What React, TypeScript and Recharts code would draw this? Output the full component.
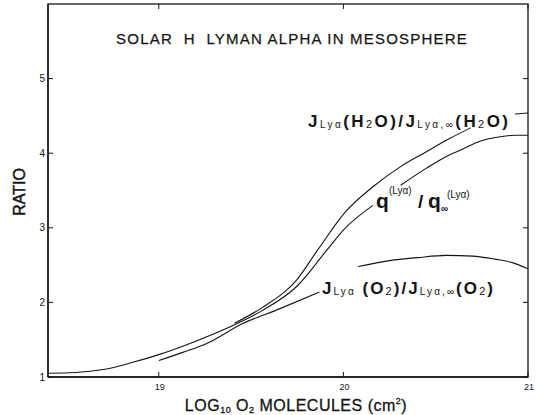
import React from "react";
import { LineChart, Line, XAxis, YAxis } from "recharts";

// log10 of O2 column (cm^-2) vs. ratio to unattenuated value
const qLogN = [18.4, 18.55, 18.7, 18.85, 19.0, 19.19, 19.41, 19.56, 19.75, 19.91, 20.0, 20.16, 20.2, 20.31, 20.45, 20.56, 20.65, 20.74, 20.85, 20.93, 21.0];
const qRatio = [1.05, 1.06, 1.1, 1.19, 1.3, 1.47, 1.7, 1.89, 2.22, 2.7, 2.97, 3.3, null, 3.57, 3.8, 3.96, 4.06, 4.16, 4.22, 4.24, 4.24];

const h2oLogN = [19.41, 19.56, 19.75, 19.86, 20.01, 20.16, 20.31, 20.45, 20.57, 20.69];
const h2oRatio = [1.72, 1.93, 2.31, 2.7, 3.21, 3.55, 3.82, 4.02, 4.19, 4.34];

const o2LogN = [19.0, 19.13, 19.26, 19.45, 19.66, 19.87, 19.98, 20.08, 20.25, 20.4, 20.56, 20.7, 20.82, 20.92, 21.0];
const o2Ratio = [1.22, 1.33, 1.45, 1.71, 1.92, 2.14, null, 2.48, 2.56, 2.6, 2.63, 2.62, 2.58, 2.53, 2.45];

const xTicks = [19, 20, 21];
const yTicks = [1, 2, 3, 4, 5];
const xDomain = [18.4, 21];
const yDomain = [1, 6];

const toPoints = (xs: number[], ys: (number | null)[]) =>
  xs.map((x, i) => ({ x, y: ys[i] }));

const FONT = '"Liberation Sans", Arial, Helvetica, sans-serif';
const INK = "#141414";

// chart size, margins and axis sizes -> plot box
const W = 536;
const H = 415;
const MARGIN = { top: 4, right: 8, left: 0, bottom: 0 };
const Y_AXIS_W = 48;
const X_AXIS_H = 38;
const boxLeft = MARGIN.left + Y_AXIS_W;
const boxRight = W - MARGIN.right;
const boxTop = MARGIN.top;
const boxBottom = H - MARGIN.bottom - X_AXIS_H;
const px = (v: number) => boxLeft + ((v - xDomain[0]) / (xDomain[1] - xDomain[0])) * (boxRight - boxLeft);
const py = (v: number) => boxBottom - ((v - yDomain[0]) / (yDomain[1] - yDomain[0])) * (boxBottom - boxTop);

const BottomTick = (props: any) => {
  const { x, y, payload } = props;
  return (
    <g>
      <line x1={x} y1={y} x2={x} y2={y - 5} stroke={INK} strokeWidth={1} />
      <text x={x + 1} y={y + 13} textAnchor="middle" fontSize={9} fontFamily={FONT} fill={INK}>
        {payload.value}
      </text>
    </g>
  );
};

const LeftTick = (props: any) => {
  const { x, y, payload } = props;
  return (
    <g>
      <line x1={x} y1={y} x2={x + 5} y2={y} stroke={INK} strokeWidth={1} />
      <text x={x - 3} y={y + 3.5} textAnchor="end" fontSize={10} fontFamily={FONT} fill={INK}>
        {payload.value}
      </text>
    </g>
  );
};

export default function App() {
  const axisLine = { stroke: INK, strokeWidth: 1.3 };
  return (
    <div style={{ position: "absolute", left: 0, top: 0, width: W, height: H, background: "#fff" }}>
      <LineChart width={W} height={H} margin={MARGIN}>
        <XAxis
          dataKey="x"
          type="number"
          domain={xDomain}
          allowDataOverflow
          ticks={xTicks}
          height={X_AXIS_H}
          tickSize={0}
          tickMargin={0}
          tick={<BottomTick />}
          axisLine={axisLine}
        />
        <YAxis
          type="number"
          domain={yDomain}
          allowDataOverflow
          ticks={yTicks}
          width={Y_AXIS_W}
          tickSize={0}
          tickMargin={0}
          tick={<LeftTick />}
          axisLine={axisLine}
        />
        <Line data={toPoints(qLogN, qRatio)} dataKey="y" type="monotone" stroke={INK} strokeWidth={1.1} dot={false} isAnimationActive={false} />
        <Line data={toPoints(h2oLogN, h2oRatio)} dataKey="y" type="monotone" stroke={INK} strokeWidth={1.1} dot={false} isAnimationActive={false} />
        <Line data={toPoints(o2LogN, o2Ratio)} dataKey="y" type="monotone" stroke={INK} strokeWidth={1.1} dot={false} isAnimationActive={false} />
      </LineChart>

      <svg
        width={W}
        height={H}
        style={{ position: "absolute", left: 0, top: 0, pointerEvents: "none" }}
        fontFamily={FONT}
        fill={INK}
      >
        {/* closed frame with inward ticks on the top and right edges */}
        <rect
          x={boxLeft}
          y={boxTop}
          width={boxRight - boxLeft}
          height={boxBottom - boxTop}
          fill="none"
          stroke={INK}
          strokeWidth={1.3}
        />
        {xTicks.map((t) => (
          <path key={`t${t}`} d={`M${px(t)},${boxTop} v5`} stroke={INK} strokeWidth={1} fill="none" />
        ))}
        {yTicks.map((t) => (
          <path key={`r${t}`} d={`M${boxRight},${py(t)} h-5`} stroke={INK} strokeWidth={1} fill="none" />
        ))}

        <text x={292} y={44} textAnchor="middle" fontSize={15} letterSpacing={1.2} stroke={INK} strokeWidth={0.25} style={{ whiteSpace: "pre" }}>
          SOLAR  H  LYMAN ALPHA IN MESOSPHERE
        </text>

        <text x={25} y={192} textAnchor="middle" fontSize={16} stroke={INK} strokeWidth={0.5} transform="rotate(-90 25 192)">
          RATIO
        </text>

        <text x={296} y={411} textAnchor="middle" fontSize={16} letterSpacing={0.5} stroke={INK} strokeWidth={0.3}>
          LOG<tspan fontSize={9} dy={2}>10</tspan>
          <tspan dy={-2}> O</tspan>
          <tspan fontSize={9} dy={2}>2</tspan>
          <tspan dy={-2}> MOLECULES (cm</tspan>
          <tspan fontSize={9} dy={-7}>2</tspan>
          <tspan dy={7}>)</tspan>
        </text>

        {/* H2O curve label */}
        <text x={308} y={127} fontSize={17} fontWeight="bold" textLength={200} lengthAdjust="spacing">
          J<tspan fontSize={10} fontWeight="normal" dy={1}>Lyα</tspan>
          <tspan dy={-1}>(H</tspan>
          <tspan fontSize={11} fontWeight="normal" dy={1}>2</tspan>
          <tspan dy={-1}>O)/J</tspan>
          <tspan fontSize={10} fontWeight="normal" dy={1}>Lyα,∞</tspan>
          <tspan dy={-1}>(H</tspan>
          <tspan fontSize={11} fontWeight="normal" dy={1}>2</tspan>
          <tspan dy={-1}>O)</tspan>
        </text>
        <path d={`M515,114 L${boxRight},113`} stroke={INK} strokeWidth={1} fill="none" />

        {/* q curve label */}
        <text x={376} y={208} fontSize={21} fontWeight="bold">q</text>
        <text x={389} y={194} fontSize={10}>(Lyα)</text>
        <text x={418} y={208} fontSize={19} fontWeight="bold">/</text>
        <text x={428} y={208} fontSize={21} fontWeight="bold">q</text>
        <text x={441} y={212} fontSize={10} fontWeight="bold">∞</text>
        <text x={447} y={198} fontSize={10}>(Lyα)</text>

        {/* O2 curve label */}
        <text x={322} y={294} fontSize={17} fontWeight="bold" textLength={171} lengthAdjust="spacing">
          J<tspan fontSize={10} fontWeight="normal" dy={1}>Lyα</tspan>
          <tspan dy={-1}> (O</tspan>
          <tspan fontSize={11} fontWeight="normal" dy={1}>2</tspan>
          <tspan dy={-1}>)/J</tspan>
          <tspan fontSize={10} fontWeight="normal" dy={1}>Lyα,∞</tspan>
          <tspan dy={-1}>(O</tspan>
          <tspan fontSize={11} fontWeight="normal" dy={1}>2</tspan>
          <tspan dy={-1}>)</tspan>
        </text>
      </svg>
    </div>
  );
}
